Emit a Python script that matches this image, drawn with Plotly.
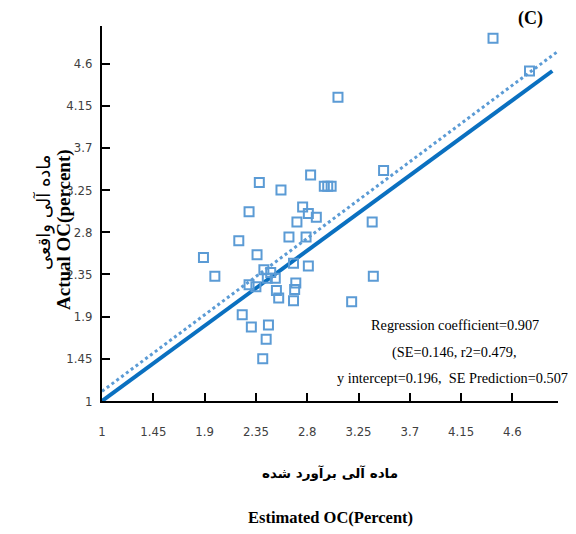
import plotly.graph_objects as go

# Data
est_oc = [4.43, 4.75, 3.07, 3.47, 2.83, 2.38, 2.57, 2.95, 2.98, 3.01,
          2.29, 2.76, 2.81, 2.88, 2.71, 3.37, 2.64, 2.79, 2.20, 1.89,
          2.36, 2.68, 2.81, 1.99, 2.42, 2.48, 2.45, 2.52, 2.29, 2.35,
          2.53, 2.55, 2.70, 2.69, 2.68, 3.38, 3.19, 2.23, 2.31, 2.46,
          2.44, 2.41]
act_oc = [4.87, 4.52, 4.24, 3.46, 3.41, 3.33, 3.25, 3.29, 3.29, 3.29,
          3.02, 3.07, 3.00, 2.96, 2.91, 2.91, 2.75, 2.75, 2.71, 2.53,
          2.56, 2.47, 2.44, 2.33, 2.40, 2.37, 2.31, 2.31, 2.24, 2.22,
          2.18, 2.10, 2.26, 2.19, 2.07, 2.33, 2.06, 1.92, 1.79, 1.81,
          1.66, 1.45]

reg_slope = 0.907
reg_intercept = 0.196
reg_x = [1, 5]
solid_x = [1, 4.95]
solid_y = [1, 4.52]

tick_vals = [1, 1.45, 1.9, 2.35, 2.8, 3.25, 3.7, 4.15, 4.6]
tick_text = ["1", "1.45", "1.9", "2.35", "2.8", "3.25", "3.7", "4.15", "4.6"]

reg_y = [reg_intercept + reg_slope * v for v in reg_x]

fig = go.Figure()
fig.add_trace(go.Scatter(
    x=solid_x, y=solid_y, mode="lines",
    line=dict(color="#0A70C0", width=4), showlegend=False, hoverinfo="skip"))
fig.add_trace(go.Scatter(
    x=reg_x, y=reg_y, mode="lines",
    line=dict(color="#5B9BD5", width=3, dash="dot"), showlegend=False, hoverinfo="skip"))
fig.add_trace(go.Scatter(
    x=est_oc, y=act_oc, mode="markers",
    marker=dict(symbol="square-open", size=9, color="#5B9BD5",
                line=dict(width=2, color="#5B9BD5")),
    showlegend=False))

tickfont = dict(family="DejaVu Sans Condensed, Liberation Sans Narrow, Arial", size=13, color="#404040")
axis_common = dict(
    range=[1, 5], tickvals=tick_vals, ticktext=tick_text,
    showgrid=False, zeroline=False, showline=True, linecolor="black", linewidth=2,
    ticks="inside", ticklen=8, tickwidth=1.5, tickcolor="black", tickfont=tickfont,
)

# page body has an 8px margin, so the figure is sized/offset to compensate
fig.update_layout(
    width=568, height=526,
    margin=dict(l=94, r=18, t=18, b=133),
    plot_bgcolor="white", paper_bgcolor="white",
    xaxis=dict(**axis_common, ticklabelstandoff=17),
    yaxis=dict(**axis_common, ticklabelstandoff=5),
)

serif = "Liberation Serif, Times New Roman, serif"
persian = "DejaVu Sans, Noto Sans, sans-serif"
annos = [
    dict(text="<b>(C)</b>", x=0.939, y=1.02, font=dict(family=serif, size=18, color="black")),
    dict(text="Regression coefficient=0.907", x=0.774, y=(401 - 325) / 375,
         font=dict(family=serif, size=14.3, color="black")),
    dict(text="(SE=0.146, r2=0.479,", x=0.774, y=(401 - 352) / 375,
         font=dict(family=serif, size=14.3, color="black")),
    dict(text="y intercept=0.196,  SE Prediction=0.507)", x=0.774, y=(401 - 378) / 375,
         font=dict(family=serif, size=14.3, color="black")),
    dict(text="<b>ماده آلی برآورد شده</b>", x=0.5, y=(401 - 473) / 375,
         font=dict(family=persian, size=13.5, color="black")),
    dict(text="<b>Estimated OC(Percent)</b>", x=0.5, y=(401 - 517) / 375,
         font=dict(family=serif, size=16.5, color="black")),
    dict(text="<b>Actual OC(percent)</b>", x=(64 - 102) / 456, y=(401 - 230) / 375,
         textangle=-90, font=dict(family=serif, size=19, color="black")),
    dict(text="ماده آلی واقعی", x=(43 - 102) / 456, y=(401 - 212) / 375,
         textangle=-90, font=dict(family=persian, size=18, color="black")),
]
for a in annos:
    fig.add_annotation(xref="paper", yref="paper", showarrow=False,
                       xanchor="center", yanchor="middle", **a)

fig.write_html("out.html")
